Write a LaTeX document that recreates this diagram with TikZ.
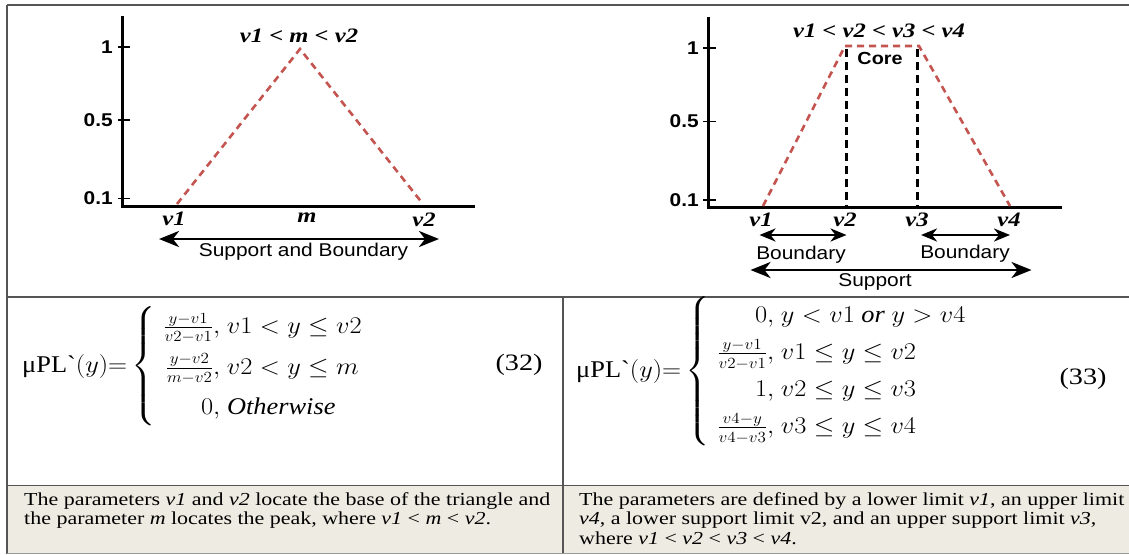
\RequirePackage{fix-cm}
\documentclass[tikz,border=0pt]{standalone}
\usepackage{amsmath}
\usepackage{graphicx}
\usepackage{fontspec}
\setmainfont{Liberation Serif}[FakeStretch=1.2]
\setsansfont{Liberation Sans}[FakeStretch=1.13]
\newfontfamily\eqfont{Liberation Serif}
\DeclareMathSizes{24}{24}{15.5}{11}
\usetikzlibrary{arrows.meta}
\definecolor{gridline}{RGB}{85,85,85}
\definecolor{notefill}{RGB}{238,236,226}
\definecolor{mfred}{RGB}{196,84,80}

\tikzset{
  axisline/.style={black, line width=3pt, line join=miter},
  axtick/.style={black, line width=1.5pt},
  member/.style={mfred, line width=2.6pt, dash pattern=on 7pt off 5pt},
  coreline/.style={black, line width=3pt, dash pattern=on 8pt off 5pt},
  spanarrow/.style={black, line width=2.8pt,
    {Stealth[length=20pt,width=16pt,inset=6pt]}-{Stealth[length=20pt,width=16pt,inset=6pt]}},
  bndarrow/.style={black, line width=2.6pt,
    {Stealth[length=16pt,width=13pt,inset=5pt]}-{Stealth[length=16pt,width=13pt,inset=5pt]}},
  ticklab/.style={font=\sffamily\bfseries\fontsize{18.5}{18.5}\selectfont, anchor=east, inner sep=0pt},
  vlab/.style={font=\bfseries\itshape\fontsize{20.5}{20.5}\selectfont, inner sep=0pt},
  caplab/.style={font=\sffamily\fontsize{18.5}{18.5}\selectfont, inner sep=0pt},
  rowtext/.style={font=\fontsize{18.3}{19.5}\selectfont, align=left, anchor=north west, inner sep=0pt},
  eqnum/.style={font=\fontsize{23.5}{23.5}\selectfont, inner sep=0pt},
}

\begin{document}
\begin{tikzpicture}[x=1pt,y=-1pt]
% Triangular and trapezoidal membership functions set over a table:
% row 1 = both plots, row 2 = the formulas, row 3 = the notes.
% Units are pixels of the 1129x554 source, y counted downward.
\useasboundingbox (0,0) rectangle (1129,554);
\def\eqx#1{\scalebox{1.1}[1]{\eqfont\fontsize{24}{28}\selectfont #1}}

% note row background and table rules
\fill[notefill] (7,485) rectangle (1129,554);
\draw[gridline, line width=2pt] (7,5) -- (1129,5);
\draw[gridline, line width=2pt] (7,5) -- (7,554);
\draw[gridline, line width=2pt] (7,297) -- (1129,297);
\draw[gridline, line width=1.5pt] (563,297) -- (563,554);
\draw[gridline, line width=1pt] (7,485) -- (1129,485);
\draw[gridline!60, line width=1pt] (7,553.5) -- (1129,553.5);

% ---- left plot: triangle ----
\coordinate (lo) at (122.5,206);
\coordinate (ltop) at (122.5,16);
\coordinate (lend) at (475,206);
\draw[axisline] (ltop) -- (lo) -- (lend);
\foreach \y/\t [count=\i] in {47/1,120/0.5,198.5/0.1}{
  \draw[axtick] (118,\y) -- (130,\y);
  \node[ticklab] (ltick\i) at (113,\y) {\t};
}
\coordinate (lv1) at (177,204);
\coordinate (lpeak) at (300,49);
\coordinate (lv2) at (423,204);
\draw[member] (lv1) -- (lpeak) -- (lv2);
\node[vlab] (ltitle) at (299,36) {v1 < m < v2};
\node[vlab] (lxv1) at (174,219) {v1};
\node[vlab] (lxm) at (307,218) {m};
\node[vlab] (lxv2) at (424,220) {v2};
\coordinate (sbl) at (159,239);
\coordinate (sbr) at (439,239);
\draw[spanarrow] (sbl) -- (sbr);
\node[caplab] (sblab) at (303.5,252) {Support and Boundary};

% ---- right plot: trapezoid ----
\coordinate (ro) at (708,207);
\coordinate (rtop) at (708,17);
\coordinate (rend) at (1062,207);
\draw[axisline] (rtop) -- (ro) -- (rend);
\foreach \y/\t [count=\i] in {48/1,121.5/0.5,200/0.1}{
  \draw[axtick] (703,\y) -- (716,\y);
  \node[ticklab] (rtick\i) at (699,\y) {\t};
}
\coordinate (rv1) at (763,206);
\coordinate (rv2) at (845,46);
\coordinate (rv3) at (919,46);
\coordinate (rv4) at (1010,206);
\draw[member] (rv1) -- (rv2) -- (rv3) -- (rv4);
\coordinate (c2t) at (846.5,49);
\coordinate (c2b) at (846.5,207);
\coordinate (c3t) at (917.5,49);
\coordinate (c3b) at (917.5,207);
\draw[coreline] (c2t) -- (c2b);
\draw[coreline] (c3t) -- (c3b);
\node[caplab, font=\sffamily\bfseries\fontsize{17.5}{17.5}\selectfont] (core) at (880,58) {Core};
\node[vlab] (rtitle) at (879,31) {v1 < v2 < v3 < v4};
\node[vlab] (rxv1) at (761,220) {v1};
\node[vlab] (rxv2) at (845,220) {v2};
\node[vlab] (rxv3) at (917,220) {v3};
\node[vlab] (rxv4) at (1009,220) {v4};
\coordinate (bl1) at (759.5,235);
\coordinate (bl2) at (846.5,235);
\coordinate (br1) at (921,235);
\coordinate (br2) at (1010,235);
\draw[bndarrow] (bl1) -- (bl2);
\draw[bndarrow] (br1) -- (br2);
\node[caplab] (bndl) at (801,255) {Boundary};
\node[caplab] (bndr) at (965,254) {Boundary};
\coordinate (spl) at (750.5,270);
\coordinate (spr) at (1031.5,270);
\draw[spanarrow] (spl) -- (spr);
\node[caplab] (supp) at (875,281.5) {Support};

% ---- formulas ----
\node[anchor=west, inner sep=0pt] (eqtri) at (22,366) {\eqx{μPL`$(y){=}\left\{
  \renewcommand\arraystretch{1.45}\begin{array}{@{\;}r@{,\ }l@{}}
    \frac{y-v1}{v2-v1} & v1<y\le v2\\
    \frac{y-v2}{m-v2} & v2<y\le m\\
    0 & \textit{Otherwise}
  \end{array}\right.$}};
\node[eqnum] (n32) at (519,365) {(32)};
\node[anchor=west, inner sep=0pt] (eqtrap) at (576,371) {\eqx{μPL`$(y){=}\left\{
  \renewcommand\arraystretch{1.32}\begin{array}{@{\;}r@{,\ }l@{}}
    0 & y<v1\ \textit{or}\ y>v4\\
    \frac{y-v1}{v2-v1} & v1\le y\le v2\\
    1 & v2\le y\le v3\\
    \frac{v4-y}{v4-v3} & v3\le y\le v4
  \end{array}\right.$}};
\node[eqnum] (n33) at (1083,379) {(33)};

% ---- notes ----
\node[rowtext] (notetri) at (24,492) {The parameters \textit{v1} and \textit{v2} locate the base of the triangle and\\
  the parameter \textit{m} locates the peak, where \textit{v1} < \textit{m} < \textit{v2}.};
\node[rowtext] (notetrap) at (579,492) {The parameters are defined by a lower limit \textit{v1}, an upper limit\\
  \textit{v4}, a lower support limit v2, and an upper support limit \textit{v3},\\
  where \textit{v1} < \textit{v2} < \textit{v3} < \textit{v4}.};
\end{tikzpicture}
\end{document}
